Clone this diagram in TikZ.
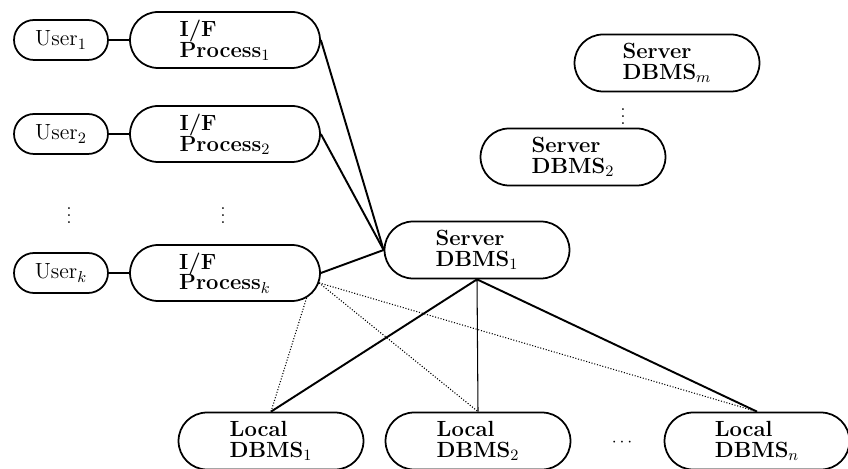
\documentclass[tikz,border=0pt]{standalone}
\usepackage{tikz}
\usetikzlibrary{shapes.misc, positioning}

\begin{document}
\begin{tikzpicture}[x=0.02cm, y=-0.02cm,
		box/.style={draw, line width=1pt, rounded rectangle, inner sep=0pt, align=left, font=\fontsize{12.5}{11.8}\selectfont},
		userbox/.style={box, minimum width=1.88cm, minimum height=0.8cm},
		procbox/.style={box, minimum width=3.8cm, minimum height=1.12cm},
		dbbox/.style={box, minimum width=3.7cm, minimum height=1.14cm},
		link/.style={line width=1.1pt},
		dotlink/.style={densely dotted, line width=0.6pt}]
		\useasboundingbox (0,0) rectangle (848,469);

		% Users and their interface processes
		\node[userbox] (u1) at (61,40) {User$_1$};
		\node[userbox] (u2) at (61,134) {User$_2$};
		\node[userbox] (uk) at (61,273) {User$_k$};
		\node[procbox] (p1) at (225,40) {\textbf{I/F}\\\textbf{Process}$_1$};
		\node[procbox] (p2) at (225,134) {\textbf{I/F}\\\textbf{Process}$_2$};
		\node[procbox] (pk) at (225,273) {\textbf{I/F}\\\textbf{Process}$_k$};
		\node (ud) at (69,210) {$\vdots$};
		\node (pd) at (223,210) {$\vdots$};

		% Server DBMSs
		\node[dbbox] (sm) at (667,63) {\textbf{Server}\\\textbf{DBMS}$_m$};
		\node[dbbox] (s2) at (573,157) {\textbf{Server}\\\textbf{DBMS}$_2$};
		\node[dbbox] (s1) at (477,250) {\textbf{Server}\\\textbf{DBMS}$_1$};
		\node (sd) at (623,111) {$\vdots$};

		% Local DBMSs
		\node[dbbox] (l1) at (271,441) {\textbf{Local}\\\textbf{DBMS}$_1$};
		\node[dbbox] (l2) at (478,441) {\textbf{Local}\\\textbf{DBMS}$_2$};
		\node[dbbox] (ln) at (757,441) {\textbf{Local}\\\textbf{DBMS}$_n$};
		\node (ld) at (622,443) {$\cdots$};

		% User to process
		\draw[line width=1pt] (u1) -- (p1);
		\draw[line width=1pt] (u2) -- (p2);
		\draw[line width=1pt] (uk) -- (pk);

		% Processes to server
		\draw[link] (p1.east) -- (s1.west);
		\draw[link] (p2.east) -- (s1.west);
		\draw[link] (pk.east) -- (s1.west);

		% Server to locals
		\draw[link] (s1.south) -- (l1.north);
		\draw[line width=0.6pt] (s1.south) -- (l2.north);
		\draw[link] (s1.south) -- (ln.north);

		% Process k straight to locals
		\draw[dotlink] (pk.-17) -- (l1.north);
		\draw[dotlink] (pk.-6) -- (l2.north);
		\draw[dotlink] (pk.-6) -- (ln.north);
	\end{tikzpicture}
\end{document}
